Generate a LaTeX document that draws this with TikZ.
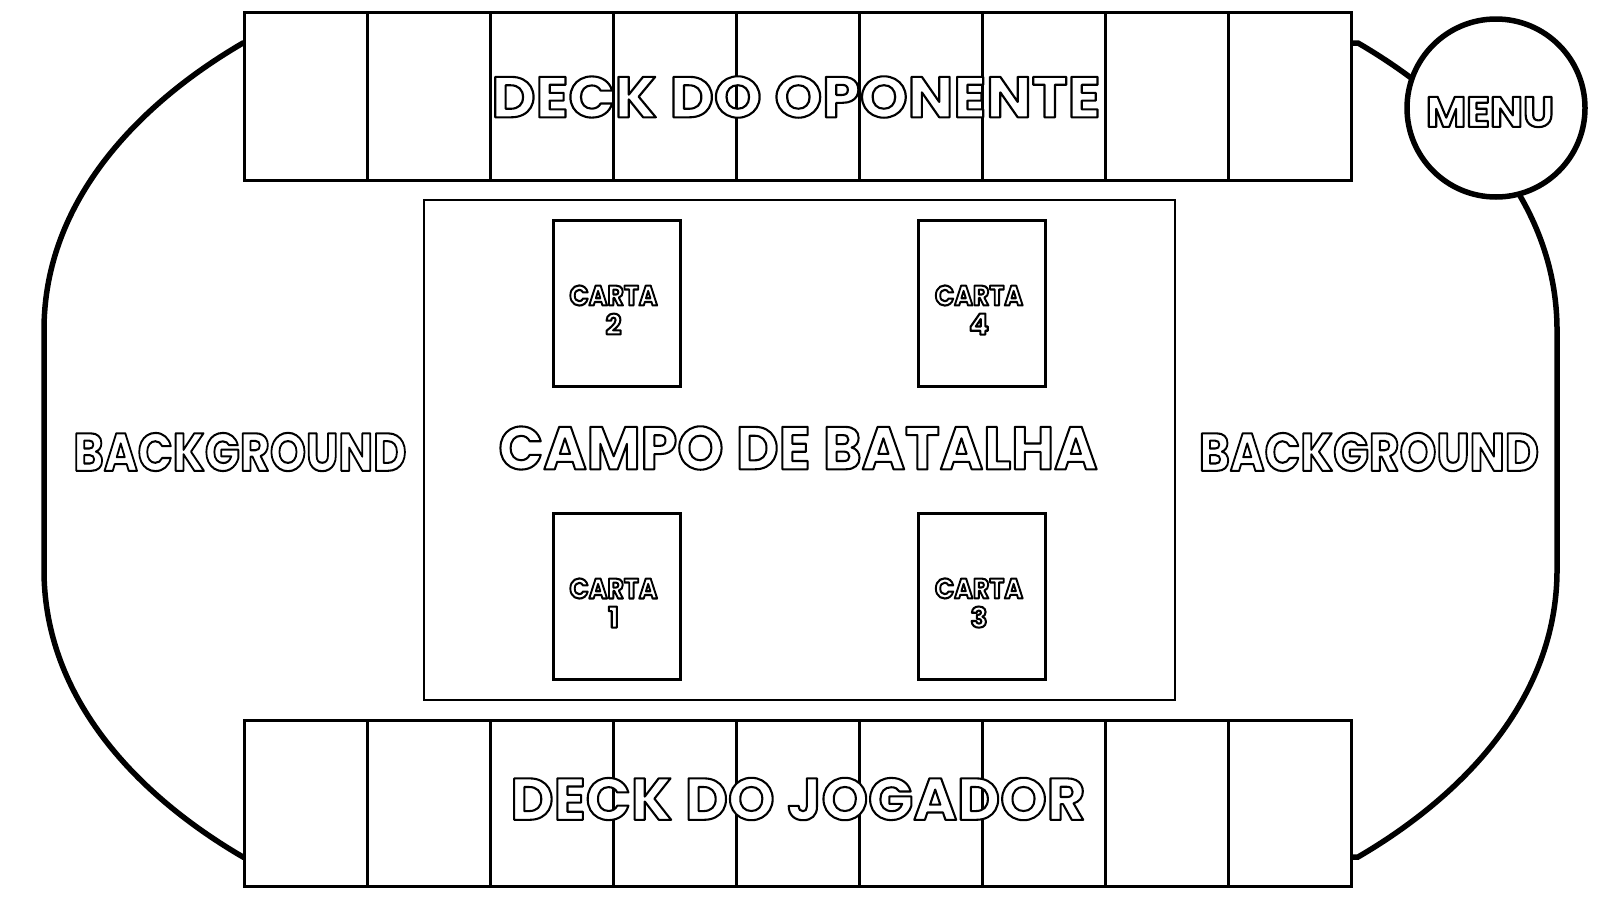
\documentclass[tikz,border=0pt]{standalone}
\usepackage{fontspec}
\setmainfont{Poppins}
\usepackage{graphicx}
\usetikzlibrary{positioning}

% white letters with a black outline (fill and stroke), stretched to a given box
\newcommand{\strk}[1]{\special{pdf:literal direct 2 Tr 2.1 w 1 j 0 0 0 RG 1 1 1 rg}#1\special{pdf:literal direct 0 Tr 0 0 0 RG 0 0 0 rg}}
\newcommand{\outtxt}[4]{\resizebox{#1}{#2}{\fontsize{#3}{#3}\selectfont\bfseries\strk{#4}}}
\newcommand{\cardtxt}[1]{\outtxt{88pt}{20pt}{28}{CARTA}\\[7pt]\resizebox{!}{21pt}{\fontsize{29}{29}\selectfont\bfseries\strk{#1}}}

\begin{document}
\begin{tikzpicture}[
        x=1pt, y=-1pt,
        cell/.style={rectangle, draw=black, fill=white, line width=3pt, minimum width=123.1pt, inner sep=0pt, outer sep=0pt},
        ocell/.style={cell, minimum height=168pt},
        jcell/.style={cell, minimum height=166pt},
        field/.style={rectangle, draw=black, fill=white, line width=2.5pt, minimum width=751pt, minimum height=500pt, inner sep=0pt},
        card/.style={rectangle, draw=black, fill=white, line width=3pt, minimum width=127pt, minimum height=166pt, inner sep=0pt, outer sep=0pt},
        menubtn/.style={circle, draw=black, fill=white, line width=5.5pt, minimum size=178pt, inner sep=0pt},
        title/.style={inner sep=0pt},
        cardlbl/.style={inner sep=0pt, align=center}
    ]
    \useasboundingbox (0,0) rectangle (1600,900);

    % table outline
    \draw[line width=5.5pt] (243,43) .. controls (140,103) and (44,200) .. (44,330) -- (44,570)
        .. controls (44,700) and (140,797) .. (243,857) -- (1358,857)
        .. controls (1461,797) and (1557,700) .. (1557,570) -- (1557,330)
        .. controls (1557,200) and (1461,103) .. (1358,43) -- cycle;

    % opponent deck
    \node[ocell] (o1) at (305.55,96) {};
    \node[ocell, right=0pt of o1] (o2) {};
    \node[ocell, right=0pt of o2] (o3) {};
    \node[ocell, right=0pt of o3] (o4) {};
    \node[ocell, right=0pt of o4] (o5) {};
    \node[ocell, right=0pt of o5] (o6) {};
    \node[ocell, right=0pt of o6] (o7) {};
    \node[ocell, right=0pt of o7] (o8) {};
    \node[ocell, right=0pt of o8] (o9) {};

    % player deck
    \node[jcell] (j1) at (305.55,803) {};
    \node[jcell, right=0pt of j1] (j2) {};
    \node[jcell, right=0pt of j2] (j3) {};
    \node[jcell, right=0pt of j3] (j4) {};
    \node[jcell, right=0pt of j4] (j5) {};
    \node[jcell, right=0pt of j5] (j6) {};
    \node[jcell, right=0pt of j6] (j7) {};
    \node[jcell, right=0pt of j7] (j8) {};
    \node[jcell, right=0pt of j8] (j9) {};

    \node[menubtn] (menu) at (1496,108) {};

    % battlefield and cards
    \node[field] (campo) at (799.5,450) {};
    \node[card] (c2) at (616.5,303) {};
    \node[card, right=238.5pt of c2] (c4) {};
    \node[card, below=127pt of c2] (c1) {};
    \node[card, below=127pt of c4] (c3) {};

    \node[cardlbl, xshift=-3pt, yshift=-7pt] (t2) at (c2) {\cardtxt{2}};
    \node[cardlbl, xshift=-3pt, yshift=-7pt] (t4) at (c4) {\cardtxt{4}};
    \node[cardlbl, xshift=-3pt, yshift=-7pt] (t1) at (c1) {\cardtxt{1}};
    \node[cardlbl, xshift=-3pt, yshift=-7pt] (t3) at (c3) {\cardtxt{3}};

    % labels
    \node[title] (oponente) at (796,97) {\outtxt{609pt}{41pt}{58}{DECK DO OPONENTE}};
    \node[title] (jogador) at (798,799) {\outtxt{575pt}{42pt}{60}{DECK DO JOGADOR}};
    \node[title] (batalha) at (798,448) {\outtxt{599pt}{43pt}{61}{CAMPO DE BATALHA}};
    \node[title] (bgleft) at (240,452) {\outtxt{333pt}{38pt}{54}{BACKGROUND}};
    \node[title] (bgright) at (1369,452) {\outtxt{340pt}{38pt}{54}{BACKGROUND}};
    \node[title] (menulbl) at (1490,112) {\outtxt{128pt}{30pt}{43}{MENU}};
\end{tikzpicture}
\end{document}
